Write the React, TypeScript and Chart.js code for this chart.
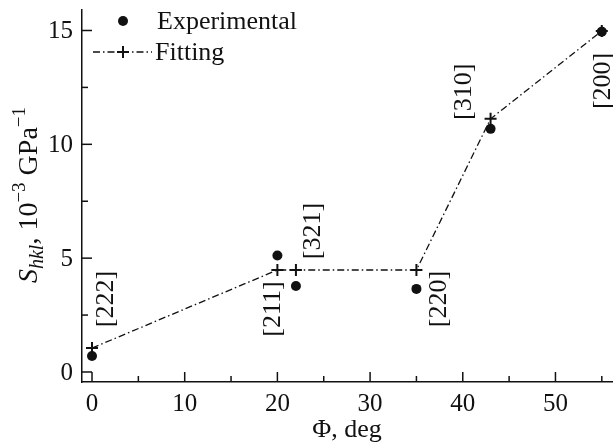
import { useEffect, useRef } from 'react';
import { Chart, registerables } from 'chart.js';

Chart.register(...registerables);

const phi = [0, 20, 22, 35, 43, 55];
const experimental = [0.7, 5.12, 3.78, 3.65, 10.68, 14.95];
const fitting = [1.05, 4.48, 4.48, 4.48, 11.12, 14.98];
const planes = ['[222]', '[211]', '[321]', '[220]', '[310]', '[200]'];
const xTicks = [0, 10, 20, 30, 40, 50];
const xMinorTicks = [5, 15, 25, 35, 45, 55];
const yTicks = [0, 5, 10, 15];
const yMinorTicks = [2.5, 7.5, 12.5];
const seriesNames = ['Experimental', 'Fitting'];

// label placement relative to the fitting point (pixels)
const labelOffsets: [number, number][] = [
  [13, -49],
  [-5, 39],
  [16, -39],
  [22, 29],
  [-27, -27],
  [0, 50],
];

const FONT = "'Liberation Serif', 'Times New Roman', serif";
const DASH = [7, 3, 1.5, 3];

const decorPlugin = {
  id: 'decor',
  afterDraw(chart: any) {
    const ctx = chart.ctx as CanvasRenderingContext2D;
    const xs = chart.scales.x;
    const ys = chart.scales.y;
    const area = chart.chartArea;
    ctx.save();
    ctx.strokeStyle = '#111';
    ctx.fillStyle = '#111';
    ctx.lineWidth = 1.5;
    const tick = (x1: number, y1: number, x2: number, y2: number) => {
      ctx.beginPath();
      ctx.moveTo(x1, y1);
      ctx.lineTo(x2, y2);
      ctx.stroke();
    };
    xTicks.forEach((v) => {
      const p = xs.getPixelForValue(v);
      tick(p, area.bottom, p, area.bottom - 10);
    });
    xMinorTicks.forEach((v) => {
      const p = xs.getPixelForValue(v);
      tick(p, area.bottom, p, area.bottom - 6);
    });
    yTicks.forEach((v) => {
      const p = ys.getPixelForValue(v);
      tick(area.left, p, area.left + 10, p);
    });
    yMinorTicks.forEach((v) => {
      const p = ys.getPixelForValue(v);
      tick(area.left, p, area.left + 6, p);
    });

    ctx.font = `25px ${FONT}`;
    ctx.textBaseline = 'middle';
    ctx.textAlign = 'center';
    xTicks.forEach((v) => {
      ctx.fillText(String(v), xs.getPixelForValue(v), area.bottom + 22);
    });
    ctx.textAlign = 'right';
    yTicks.forEach((v) => {
      ctx.fillText(String(v), area.left - 9, ys.getPixelForValue(v) + 1);
    });

    ctx.font = `26px ${FONT}`;
    ctx.textAlign = 'center';
    planes.forEach((t, i) => {
      const px = xs.getPixelForValue(phi[i]) + labelOffsets[i][0];
      const py = ys.getPixelForValue(fitting[i]) + labelOffsets[i][1];
      ctx.save();
      ctx.translate(px, py);
      ctx.rotate(-Math.PI / 2);
      ctx.fillText(t, 0, 1);
      ctx.restore();
    });

    ctx.textAlign = 'left';
    ctx.beginPath();
    ctx.arc(123, 21, 5, 0, Math.PI * 2);
    ctx.fill();
    ctx.fillText(seriesNames[0], 157, 22);
    ctx.lineWidth = 1.3;
    ctx.setLineDash(DASH);
    tick(93, 52, 152, 52);
    ctx.setLineDash([]);
    ctx.lineWidth = 2;
    tick(117, 52, 129, 52);
    tick(123, 46, 123, 58);
    ctx.fillText(seriesNames[1], 155, 53);

    ctx.textAlign = 'center';
    ctx.fillText('\u03A6, deg', 347, 430);

    const segs = [
      { t: 'S', f: `italic 28px ${FONT}`, dy: 0 },
      { t: 'hkl', f: `italic 20px ${FONT}`, dy: 6 },
      { t: ', 10', f: `28px ${FONT}`, dy: 0 },
      { t: '\u22123', f: `19px ${FONT}`, dy: -12 },
      { t: ' GPa', f: `28px ${FONT}`, dy: 0 },
      { t: '\u22121', f: `19px ${FONT}`, dy: -12 },
    ];
    let total = 0;
    const widths = segs.map((s) => {
      ctx.font = s.f;
      const w = ctx.measureText(s.t).width;
      total += w;
      return w;
    });
    ctx.save();
    ctx.translate(27, 195);
    ctx.rotate(-Math.PI / 2);
    ctx.textAlign = 'left';
    ctx.textBaseline = 'alphabetic';
    let cx = -total / 2;
    segs.forEach((s, i) => {
      ctx.font = s.f;
      ctx.fillText(s.t, cx, 10 + s.dy);
      cx += widths[i];
    });
    ctx.restore();
    ctx.restore();
  },
};

export default function App() {
  const ref = useRef<HTMLCanvasElement>(null);
  useEffect(() => {
    if (!ref.current) return;
    const chart = new Chart(ref.current, {
      type: 'scatter',
      data: {
        datasets: [
          {
            label: seriesNames[1],
            data: phi.map((x, i) => ({ x, y: fitting[i] })),
            showLine: true,
            borderColor: '#111',
            borderWidth: 1.3,
            borderDash: DASH,
            pointStyle: 'cross',
            pointRadius: 6,
            pointBorderWidth: 2,
            pointBorderColor: '#111',
            pointBackgroundColor: '#111',
            clip: false,
          },
          {
            label: seriesNames[0],
            data: phi.map((x, i) => ({ x, y: experimental[i] })),
            showLine: false,
            pointStyle: 'circle',
            pointRadius: 5,
            pointBorderWidth: 0,
            pointBackgroundColor: '#111',
            pointBorderColor: '#111',
            clip: false,
          },
        ],
      },
      options: {
        animation: false,
        responsive: false,
        maintainAspectRatio: false,
        layout: { autoPadding: false, padding: { top: 10, right: 1, left: 0, bottom: 0 } },
        plugins: { legend: { display: false }, tooltip: { enabled: false } },
        scales: {
          x: {
            type: 'linear',
            min: -1.08,
            max: 56.1,
            afterBuildTicks: (s: any) => {
              s.ticks = xTicks.map((v) => ({ value: v }));
            },
            afterFit: (s: any) => {
              s.height = 64;
            },
            grid: { display: false, drawTicks: false, tickLength: 0 },
            border: { display: true, color: '#111', width: 1.5 },
            ticks: { display: false },
          },
          y: {
            type: 'linear',
            min: -0.44,
            max: 15.9,
            afterBuildTicks: (s: any) => {
              s.ticks = yTicks.map((v) => ({ value: v }));
            },
            afterFit: (s: any) => {
              s.width = 82;
            },
            grid: { display: false, drawTicks: false, tickLength: 0 },
            border: { display: true, color: '#111', width: 1.5 },
            ticks: { display: false },
          },
        },
      },
      plugins: [decorPlugin],
    });
    return () => chart.destroy();
  }, []);
  return (
    <div style={{ position: 'fixed', left: 0, top: 0, width: 613, height: 446, background: '#fff' }}>
      <canvas ref={ref} width={613} height={446} style={{ width: 613, height: 446 }} />
    </div>
  );
}
